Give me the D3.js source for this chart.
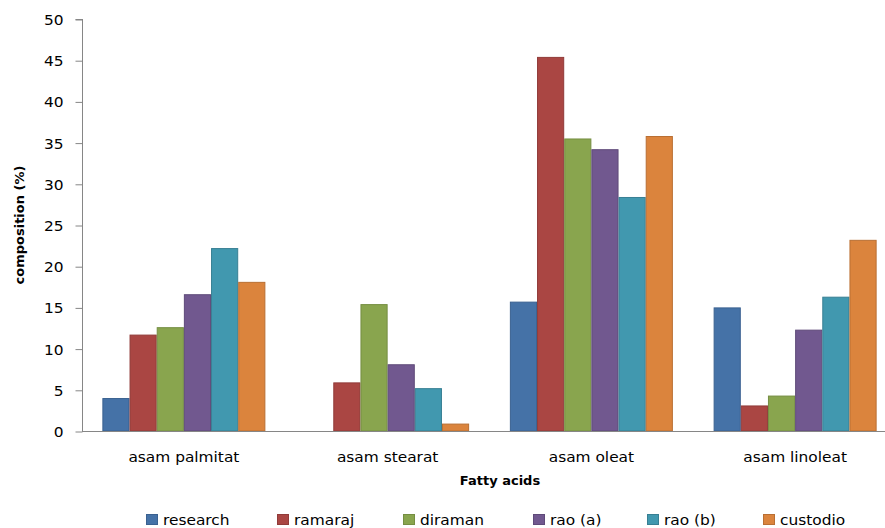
<!DOCTYPE html>
<html>
<head>
<meta charset="utf-8">
<script src="https://cdn.jsdelivr.net/npm/d3@7"></script>
<style>
  html, body { margin: 0; padding: 0; background: #fff; }
  svg { display: block; font-family: "DejaVu Sans", Verdana, sans-serif; }
</style>
</head>
<body>
<svg id="chart" width="885" height="528"></svg>
<script>
// Fatty acid composition (%) by source
const categories = ["asam palmitat", "asam stearat", "asam oleat", "asam linoleat"];
const seriesNames = ["research", "ramaraj", "diraman", "rao (a)", "rao (b)", "custodio"];
const research = [4.0, 0, 15.7, 15.0];
const ramaraj  = [11.7, 5.9, 45.4, 3.1];
const diraman  = [12.6, 15.4, 35.5, 4.3];
const raoA     = [16.6, 8.1, 34.2, 12.3];
const raoB     = [22.2, 5.2, 28.4, 16.3];
const custodio = [18.1, 0.9, 35.8, 23.2];
const yTicks = [0, 5, 10, 15, 20, 25, 30, 35, 40, 45, 50];

const fills   = ["#4572A7", "#AA4643", "#89A54E", "#71588F", "#4198AF", "#DB843D"];
const strokes = ["#3A6190", "#913B39", "#758E42", "#5F4A79", "#377F93", "#B96F33"];

const seriesValues = [research, ramaraj, diraman, raoA, raoB, custodio];

const svg = d3.select("#chart");
const W = 885, H = 528;
const plot = { left: 82, right: 897, top: 19, bottom: 431 };
const stretch = 1.1; // horizontal widening of the label type

const x0 = d3.scaleBand().domain(categories)
  .range([plot.left, plot.right]).paddingInner(0.2).paddingOuter(0.1);
const x1 = d3.scaleBand().domain(seriesNames).range([0, x0.bandwidth()]);
const y = d3.scaleLinear().domain([0, 50]).range([plot.bottom, plot.top]);

const axisColor = "#868686";

function label(sel, x, yPos) {
  return sel.attr("transform", (d, i) =>
    `translate(${typeof x === "function" ? x(d, i) : x},${yPos}) scale(${stretch},1)`);
}

// bars
const groups = svg.append("g").selectAll("g").data(categories).join("g")
  .attr("transform", d => `translate(${x0(d)},0)`);
groups.selectAll("rect")
  .data((c, ci) => seriesNames.map((s, si) => ({ s, si, v: seriesValues[si][ci] })))
  .join("rect")
  .filter(d => d.v > 0)
  .attr("x", d => x1(d.s) + 0.5)
  .attr("y", d => y(d.v) + 0.5)
  .attr("width", x1.bandwidth() - 1)
  .attr("height", d => y(0) - y(d.v) - 0.5)
  .attr("fill", d => fills[d.si])
  .attr("stroke", d => strokes[d.si])
  .attr("stroke-width", 1);

// y axis
const yAxis = d3.axisLeft(y).tickValues(yTicks).tickSize(7).tickFormat(d => d);
const ya = svg.append("g").attr("transform", `translate(${plot.left + 0.5},0)`).call(yAxis);
ya.selectAll(".tick line").attr("stroke", axisColor).attr("transform", "translate(0,0.5)");
ya.select(".domain").attr("stroke", axisColor).attr("d", `M0,${y(50) + 0.5}H-7M0,${y(50)}V${y(0) + 0.5}`);
ya.selectAll(".tick text")
  .attr("x", null).attr("dy", "0.36em")
  .attr("transform", `translate(-19,0.5) scale(${stretch},1)`)
  .attr("font-size", 14).attr("fill", "#000")
  .attr("font-family", "DejaVu Sans, Verdana, sans-serif");

// x axis baseline
svg.append("line")
  .attr("x1", plot.left).attr("x2", W)
  .attr("y1", y(0) + 0.5).attr("y2", y(0) + 0.5)
  .attr("stroke", axisColor).attr("stroke-width", 1);

// category labels
svg.append("g").selectAll("text").data(categories).join("text")
  .call(label, d => x0(d) + x0.bandwidth() / 2, 462)
  .attr("text-anchor", "middle")
  .attr("font-size", 14)
  .text(d => d);

// axis titles
svg.append("text")
  .attr("x", 500).attr("y", 485)
  .attr("text-anchor", "middle")
  .attr("font-size", 13).attr("font-weight", "bold")
  .text("Fatty acids");
svg.append("text")
  .attr("transform", "translate(24,225) rotate(-90)")
  .attr("text-anchor", "middle")
  .attr("font-size", 13).attr("font-weight", "bold")
  .text("composition (%)");

// legend
const legendX = [146, 277, 403, 533, 647, 763];
const leg = svg.append("g").selectAll("g").data(seriesNames).join("g")
  .attr("transform", (d, i) => `translate(${legendX[i]},514)`);
leg.append("rect")
  .attr("x", 0.5).attr("y", 0.5).attr("width", 11).attr("height", 10)
  .attr("fill", (d, i) => fills[i]).attr("stroke", (d, i) => strokes[i]);
leg.append("text")
  .call(label, 17, 11)
  .attr("font-size", 14)
  .text(d => d);
</script>
</body>
</html>
